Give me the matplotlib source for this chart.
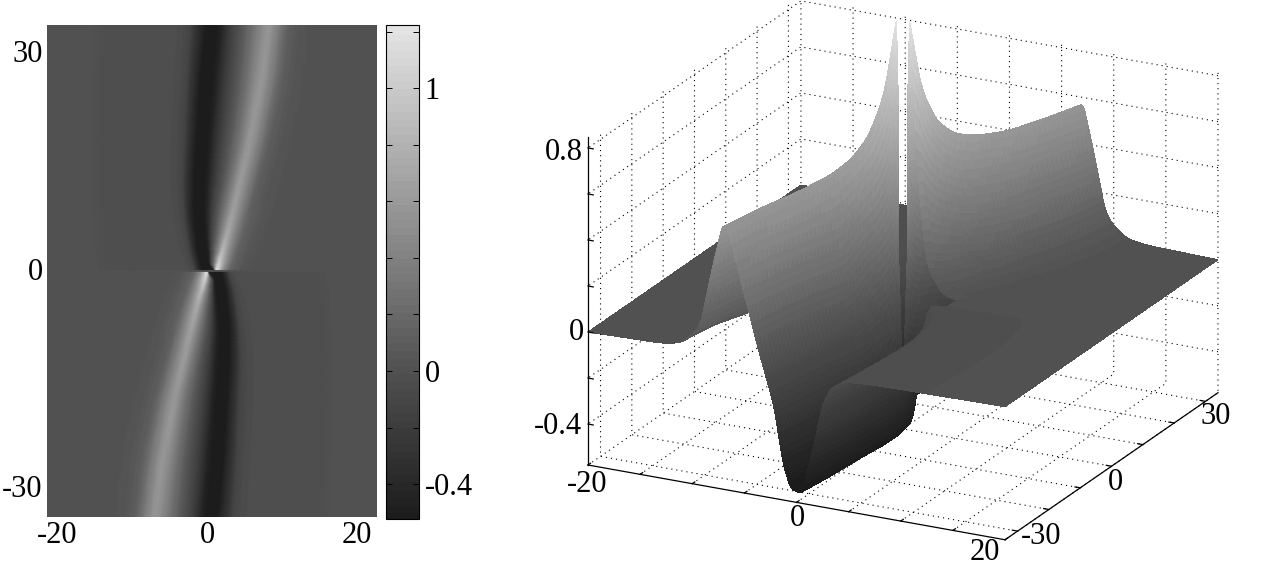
import numpy as np
import matplotlib
matplotlib.use("Agg")
import matplotlib.pyplot as plt
from matplotlib.colors import LinearSegmentedColormap, Normalize
from matplotlib.transforms import ScaledTranslation
from matplotlib.tri import Triangulation
from mpl_toolkits.mplot3d import proj3d

W, H = 1265, 572
plt.rcParams['font.family'] = ['Liberation Serif', 'DejaVu Serif']
plt.rcParams['axes.unicode_minus'] = False
plt.rcParams['grid.color'] = 'black'
plt.rcParams['grid.linestyle'] = (0, (1, 3.6))
plt.rcParams['grid.linewidth'] = 0.8

# values: feature-following profile of each row (y > 0);
# the field is point-symmetric in the picture, f(-x,-y) = f(x,y)
row_y = [0.2, 1, 2, 3, 5, 8, 12, 18, 26, 34]
row_x = [
    [-20,-3.0,-2.4,-2.0,-1.6,-1.3,-1.0,-0.3,0.30,0.32,0.35,0.38,0.6,1.3,2.2,4.0,20],
    [-20,-3.5,-2.6,-2.2,-1.8,-1.5,-1.2,-0.5,-0.3,-0.1,0.2,0.5,0.8,1.6,2.5,4.5,20],
    [-20,-4.0,-3.0,-2.5,-2.0,-1.7,-1.4,-0.6,-0.35,-0.1,0.25,0.6,1.0,1.9,2.9,5.0,20],
    [-20,-4.5,-3.2,-2.7,-2.2,-1.9,-1.6,-0.7,-0.4,-0.1,0.3,0.8,1.3,2.2,3.2,5.5,20],
    [-20,-5.0,-3.6,-3.0,-2.5,-2.1,-1.8,-0.9,-0.5,-0.1,0.5,1.1,1.8,2.8,3.8,6.0,20],
    [-20,-5.5,-4.0,-3.3,-2.8,-2.4,-2.0,-1.1,-0.6,0.0,0.8,1.6,2.5,3.6,4.6,7.0,20],
    [-20,-6.0,-4.3,-3.5,-2.9,-2.4,-2.0,-1.0,-0.4,0.3,1.2,2.2,3.3,4.5,5.6,8.0,20],
    [-20,-6.0,-4.2,-3.3,-2.6,-2.1,-1.7,-0.6,0.0,0.9,2.0,3.3,4.6,5.9,7.0,9.5,20],
    [-20,-5.6,-3.8,-3.0,-2.2,-1.7,-1.2,-0.1,0.6,1.6,2.9,4.3,5.9,7.3,8.5,11.0,20],
    [-20,-5.1,-3.4,-2.5,-1.6,-1.0,-0.5,0.6,1.3,2.2,3.5,5.1,6.9,8.2,9.3,11.5,20],
]
row_z = [
    [0,-.01,-.05,-.13,-.33,-.44,-.52,-.52,-.42,-.05,.30,.85,1.27,.55,.15,.01,0],
    [0,-.01,-.05,-.13,-.33,-.44,-.52,-.52,-.42,-.05,.25,.72,1.14,.55,.15,.01,0],
    [0,-.01,-.05,-.13,-.33,-.44,-.52,-.52,-.42,-.10,.18,.55,1.00,.50,.14,.01,0],
    [0,-.01,-.05,-.13,-.33,-.44,-.52,-.52,-.42,-.12,.15,.48,.90,.46,.14,.01,0],
    [0,-.01,-.05,-.13,-.33,-.44,-.52,-.52,-.42,-.15,.12,.42,.78,.42,.14,.01,0],
    [0,-.01,-.05,-.13,-.33,-.44,-.52,-.52,-.42,-.15,.10,.38,.70,.38,.12,.01,0],
    [0,-.01,-.05,-.13,-.33,-.44,-.52,-.52,-.42,-.17,.03,.30,.66,.37,.11,.01,0],
    [0,-.01,-.05,-.13,-.33,-.44,-.52,-.52,-.42,-.17,.03,.30,.63,.36,.10,.01,0],
    [0,-.01,-.05,-.13,-.33,-.44,-.53,-.52,-.42,-.17,.03,.30,.62,.36,.10,.01,0],
    [0,-.01,-.05,-.13,-.33,-.44,-.54,-.52,-.42,-.17,.03,.30,.61,.35,.10,.01,0],
]
left_xticks = [-20, 0, 20]
left_yticks = [-30, 0, 30]
cbar_ticks = [-0.4, -0.2, 0, 0.2, 0.4, 0.6, 0.8, 1.0, 1.2]
cbar_labels = {-0.4: '-0.4', 0: '0', 1.0: '1'}
labels_3d = [('-20', 587, 485), ('0', 797, 518), ('20', 985, 553),
             ('-30', 1041, 536), ('0', 1115, 483), ('30', 1216, 416),
             ('0.8', 564, 153), ('0', 576, 333), ('-0.4', 558, 427)]

# assemble full mesh
Xu, Zu, Yu = np.array(row_x, float), np.array(row_z, float), np.array(row_y, float)
X = np.vstack([-Xu[::-1, ::-1], Xu])
Z = np.vstack([Zu[::-1, ::-1], Zu])
Yv = np.concatenate([-Yu[::-1], Yu])
Y = np.repeat(Yv[:, None], X.shape[1], axis=1)

vmin, vmax = -0.523, 1.223
cmap = LinearSegmentedColormap.from_list(
    'g', [(0, (.11, .11, .11)), (.30, (.315, .315, .315)), (1, (.89, .89, .89))], N=64)
bg = cmap(Normalize(vmin, vmax)(0.0))

# fine rendering mesh: subdivide the read table, round its corners a little
def refine(A, n, axis):
    A = np.moveaxis(A, axis, 0)
    N = A.shape[0]
    f = np.linspace(0, N - 1, (N - 1) * n + 1)
    out = np.array([np.interp(f, np.arange(N), c) for c in A.T]).T
    return np.moveaxis(out, 0, axis)

def smooth(A, w):
    # box filter along axis 1; odd reflection keeps the end values in place
    k = np.ones(w) / w
    p = w // 2
    P = np.pad(A, ((0, 0), (p, p)), mode='reflect', reflect_type='odd')
    return np.array([np.convolve(r, k, mode='valid') for r in P])

nr, nc = 8, 8
nrow = len(row_y)
def fine_half(A):
    F = refine(refine(A, nr, 0), nc, 1)
    F = smooth(F, 5)
    return smooth(F.T, 5).T

Xl, Yl, Zl = fine_half(X[:nrow]), fine_half(Y[:nrow]), fine_half(Z[:nrow])
Xh, Yh, Zh = fine_half(X[nrow:]), fine_half(Y[nrow:]), fine_half(Z[nrow:])

fig = plt.figure(figsize=(W / 100, H / 100), dpi=100, facecolor='white')

def box(x0, y0, x1, y1):
    return [x0 / W, 1 - y1 / H, (x1 - x0) / W, (y1 - y0) / H]

# left map
ax = fig.add_axes(box(47, 25, 377, 517))
ax.set_facecolor(bg)
mesh = ax.pcolormesh(Xl, Yl, Zl, shading='gouraud', cmap=cmap, vmin=vmin, vmax=vmax)
ax.pcolormesh(Xh, Yh, Zh, shading='gouraud', cmap=cmap, vmin=vmin, vmax=vmax)
ax.set_xlim(-20, 20)
ax.set_ylim(-34, 34)
ax.set_xticks(left_xticks)
ax.set_yticks(left_yticks)
ax.set_xticklabels([str(t) for t in left_xticks])
ax.set_yticklabels([str(t) for t in left_yticks])
ax.tick_params(length=0, labelsize=22, pad=3)
for sp in ax.spines.values():
    sp.set_visible(False)
for lab, dx in zip(ax.get_xticklabels(), [10, -5, -20]):
    lab.set_transform(lab.get_transform() + ScaledTranslation(dx / 100, 0, fig.dpi_scale_trans))
for lab in ax.get_yticklabels():
    lab.set_transform(lab.get_transform() + ScaledTranslation(0, 2.5 / 100, fig.dpi_scale_trans))

# colorbar
cax = fig.add_axes(box(386, 25, 419, 519))
cb = fig.colorbar(mesh, cax=cax, ticks=cbar_ticks)
cb.outline.set_linewidth(0.8)
cb.solids.set_edgecolor('face')
cax.set_yticklabels([cbar_labels.get(round(t, 1), '') for t in cbar_ticks])
cax.tick_params(direction='in', left=True, right=True, length=4, width=0.7, labelsize=22, pad=4)

# 3-D surface
elev, azim = 20.6, -63
xl, yl, zl = (-20, 20), (-34, 34), (-0.578, 0.82)
s = 1265 / 572
ax3 = fig.add_axes([0, (1 - s) / 2, 1, s], projection='3d', computed_zorder=False)
ax3.patch.set_alpha(0)
ax3.set_proj_type('ortho')
ax3.view_init(elev=elev, azim=azim)
ax3.set_xlim(*xl); ax3.set_ylim(*yl); ax3.set_zlim(*zl)
ax3.set_xticks(np.arange(-20, 21, 5))
ax3.set_yticks(np.arange(-30, 31, 10))
ax3.set_zticks(np.arange(-0.4, 0.81, 0.2))
ax3.set_xticklabels([]); ax3.set_yticklabels([]); ax3.set_zticklabels([])
for a in (ax3.xaxis, ax3.yaxis, ax3.zaxis):
    a.pane.set_facecolor('white')
    a.pane.set_edgecolor('none')
    a.line.set_color((0, 0, 0, 0))
    a._axinfo['tick']['inward_factor'] = 0
    a._axinfo['tick']['outward_factor'] = 0

# calibrate box to the picture's floor corners
targets = [(-20, -34, zl[0], 588, H - 465), (20, -34, zl[0], 1005, H - 540)]
def px(xx, yy, zz):
    ax3.apply_aspect()
    p = proj3d.proj_transform(xx, yy, zz, ax3.get_proj())
    return ax3.transData.transform((p[0], p[1]))
zoom = 1.0
ax3.set_box_aspect((468, 469, 343.6), zoom=zoom)
fig.canvas.draw()
a, b = px(*targets[0][:3]), px(*targets[1][:3])
zoom *= np.hypot(417, 75) / np.hypot(*(b - a))
ax3.set_box_aspect((468, 469, 343.6), zoom=zoom)
fig.canvas.draw()
a = px(*targets[0][:3])
pos = ax3.get_position(original=True)
dx, dy = (targets[0][3] - a[0]) / W, (targets[0][4] - a[1]) / H
ax3.set_position([pos.x0 + dx, pos.y0 + dy, pos.width, pos.height])
fig.canvas.draw()

# single triangulated surface: halves + flat outer parts of the joining band
Xf, Yf, Zf = np.vstack([Xl, Xh]), np.vstack([Yl, Yh]), np.vstack([Zl, Zh])
R, C = Xf.shape
Rl = Xl.shape[0]
tris = []
for i in range(R - 1):
    for j in range(C - 1):
        if i == Rl - 1 and nc <= j < C - 1 - nc:
            continue
        p0 = i * C + j
        tris.append((p0, p0 + 1, p0 + C))
        tris.append((p0 + 1, p0 + C + 1, p0 + C))
tri = Triangulation(Xf.ravel(), Yf.ravel(), np.array(tris))
ax3.plot_trisurf(tri, Zf.ravel(), cmap=cmap, vmin=vmin, vmax=vmax, shade=False,
                 linewidth=0, antialiased=False, zorder=2)
ax3.set_xlim(*xl); ax3.set_ylim(*yl); ax3.set_zlim(*zl)

# axis lines and small ticks
lk = dict(color='black', lw=0.9, zorder=3, linestyle='-')
ax3.plot([xl[0], xl[1]], [yl[0], yl[0]], [zl[0], zl[0]], **lk)
ax3.plot([xl[1], xl[1]], [yl[0], yl[1]], [zl[0], zl[0]], **lk)
ax3.plot([xl[0], xl[0]], [yl[0], yl[0]], [zl[0], 0.848], **lk)
for t in np.arange(-0.4, 0.81, 0.2):
    ax3.plot([xl[0], xl[0] + 0.5], [yl[0], yl[0]], [t, t], **lk)
for t in np.arange(-20, 21, 5):
    ax3.plot([t, t], [yl[0], yl[0] + 0.8], [zl[0], zl[0]], **lk)
for t in np.arange(-30, 31, 10):
    ax3.plot([xl[1], xl[1] - 0.5], [t, t], [zl[0], zl[0]], **lk)

for txt, x, y in labels_3d:
    fig.text(x / W, 1 - y / H, txt, ha='center', va='center', fontsize=22)

fig.savefig('out.png', dpi=100)
